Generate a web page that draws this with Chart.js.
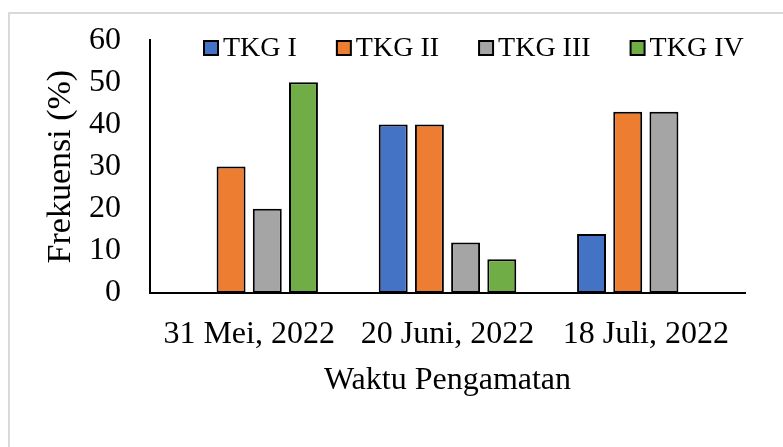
<!DOCTYPE html>
<html>
<head>
<meta charset="utf-8">
<script src="https://cdn.jsdelivr.net/npm/chart.js@4.4.0/dist/chart.umd.min.js"></script>
<style>
  html, body { margin: 0; padding: 0; background: #fff; }
  #wrap { width: 783px; height: 447px; }
</style>
</head>
<body>
<div id="wrap"><canvas id="myChart" width="783" height="447"></canvas></div>
<script>
// data
var categories = ['31 Mei, 2022', '20 Juni, 2022', '18 Juli, 2022'];
var seriesNames = ['TKG I', 'TKG II', 'TKG III', 'TKG IV'];
var tkg1 = [0, 40, 14];
var tkg2 = [30, 40, 43];
var tkg3 = [20, 12, 43];
var tkg4 = [50, 8, 0];
var yTicks = [0, 10, 20, 30, 40, 50, 60];

var colors = ['#4472C4', '#ED7D31', '#A5A5A5', '#70AD47'];
var serif = "'Liberation Serif', 'Times New Roman', serif";

function ds(i, values) {
    return {
        label: seriesNames[i],
        data: values,
        backgroundColor: colors[i],
        borderColor: '#000',
        borderWidth: 2,
        borderSkipped: false,
        categoryPercentage: 0.73,
        barPercentage: 0.8
    };
}

// light grey frame around the whole figure
var framePlugin = {
    id: 'frame',
    beforeDraw: function (chart) {
        var c = chart.ctx;
        c.save();
        c.fillStyle = '#fff';
        c.fillRect(0, 0, chart.width, chart.height);
        c.strokeStyle = '#d9d9d9';
        c.lineWidth = 2;
        c.strokeRect(9, 13, chart.width + 20, chart.height + 20);
        c.restore();
    }
};

// legend drawn over the top of the plot, like the original
var legendPlugin = {
    id: 'topLegend',
    afterDraw: function (chart) {
        var c = chart.ctx;
        c.save();
        c.font = '28px ' + serif;
        c.textBaseline = 'middle';
        var x = 204, y = 48;
        chart.data.datasets.forEach(function (d) {
            c.fillStyle = d.backgroundColor;
            c.fillRect(x, y - 7, 14, 14);
            c.strokeStyle = '#000';
            c.lineWidth = 2;
            c.strokeRect(x, y - 7, 14, 14);
            c.fillStyle = '#000';
            c.fillText(d.label, x + 19, y + 1);
            x += 19 + c.measureText(d.label).width + 40;
        });
        c.restore();
    }
};

var ctx = document.getElementById('myChart').getContext('2d');
var myChart = new Chart(ctx, {
    type: 'bar',
    data: {
        labels: categories,
        datasets: [ds(0, tkg1), ds(1, tkg2), ds(2, tkg3), ds(3, tkg4)]
    },
    options: {
        responsive: false,
        animation: false,
        layout: { padding: { left: 0, right: 38, top: 38, bottom: 0 } },
        plugins: {
            legend: { display: false },
            tooltip: { enabled: false }
        },
        scales: {
            x: {
                grid: { display: false },
                border: { color: '#000', width: 2 },
                ticks: { color: '#000', font: { family: serif, size: 32 }, padding: 14, maxRotation: 0, autoSkip: false },
                title: { display: true, text: 'Waktu Pengamatan', color: '#000',
                         font: { family: serif, size: 32 }, padding: { top: 0, bottom: 47 } },
                afterFit: function (s) { s.height = 154; }
            },
            y: {
                min: 0,
                max: 60,
                grid: { display: false },
                border: { color: '#000', width: 2 },
                afterBuildTicks: function (s) {
                    s.ticks = yTicks.map(function (v) { return { value: v }; });
                },
                ticks: { color: '#000', font: { family: serif, size: 32 }, padding: 21, autoSkip: false },
                title: { display: true, text: 'Frekuensi (%)', color: '#000',
                         font: { family: serif, size: 34 }, padding: { top: 41, bottom: 0 } },
                afterFit: function (s) { s.width = 150; }
            }
        }
    },
    plugins: [framePlugin, legendPlugin]
});
</script>
</body>
</html>
